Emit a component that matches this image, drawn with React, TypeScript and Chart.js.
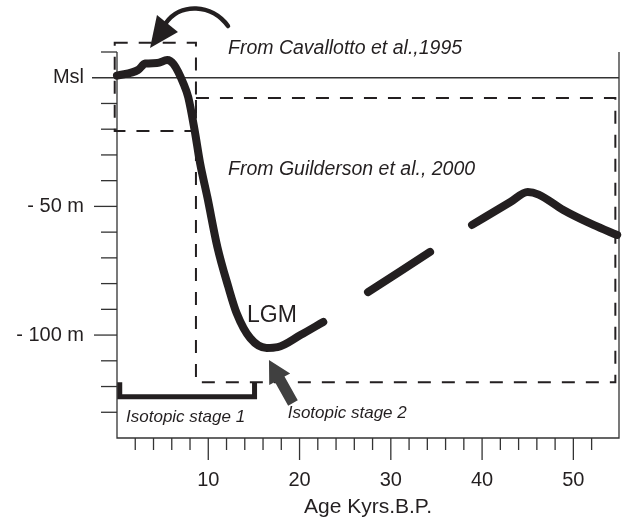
import React, { useEffect, useRef } from 'react';
import { Chart, registerables } from 'chart.js';
Chart.register(...registerables);

// ---- data ----
const ages = [0, 2.3, 3.1, 4.4, 5.5, 6.2, 7.3, 7.8, 8.5, 9.1, 9.9, 11.0, 12.2, 13.1, 14.6, 16.4, 17.6, 20.1, 22.6, 25.0, 27.5, 34.3, 36.5, 38.9, 43.1, 45.0, 46.2, 48.9, 52.2, 54.8];
const levels = [0.8, 3.0, 5.5, 5.7, 6.9, 5.3, -2.4, -7.5, -20.3, -33.1, -46.4, -65.8, -81.3, -91.4, -101.2, -105.0, -104.7, -100.0, -94.9, null, -83.3, -67.7, null, -57.2, -48.3, -44.4, -45.4, -51.4, -57.2, -61.1];

const xMajorTicks = [10, 20, 30, 40, 50];
const yTickValues = [0, -50, -100];
const yTickLabels = ['Msl', '- 50 m', '- 100 m'];
const xTitle = 'Age Kyrs.B.P.';

// annotation boxes in data units [xLeft, xRight, yTop, yBottom]
const boxCavallotto = [-0.25, 8.65, 13.6, -20.7];
const boxGuilderson = [8.65, 54.6, -7.9, -118.3];
// isotopic stage 1 bracket [xLeft, xRight, yTop, yBottom]
const stage1Bracket = [0.3, 15.07, -118.3, -124.0];

const FONT = '"Liberation Sans", Arial, Helvetica, sans-serif';
const INK = '#231f20';

const annotPlugin = {
  id: 'annot',
  beforeDatasetsDraw(chart: any) {
    const ctx = chart.ctx;
    const xs = chart.scales.x, ys = chart.scales.y;
    const X = (v: number) => xs.getPixelForValue(v);
    const Y = (v: number) => ys.getPixelForValue(v);
    const { left: L, right: R, top: T, bottom: B } = chart.chartArea;
    ctx.save();
    // axes
    ctx.strokeStyle = '#333';
    ctx.lineWidth = 1.3;
    ctx.beginPath();
    ctx.moveTo(L, T); ctx.lineTo(L, B); ctx.lineTo(R, B); ctx.lineTo(R, T);
    ctx.stroke();
    // y ticks
    for (const t of ys.ticks) {
      const v = Math.round(t.value);
      if (v <= ys.min) continue;
      const yy = Y(v);
      if (v === 0) {
        ctx.beginPath(); ctx.moveTo(L - 25, yy); ctx.lineTo(R, yy); ctx.stroke();
        continue;
      }
      const len = yTickValues.includes(v) ? 23 : 16;
      ctx.beginPath(); ctx.moveTo(L - len, yy); ctx.lineTo(L, yy); ctx.stroke();
    }
    // x ticks
    for (const t of xs.ticks) {
      const v = Math.round(t.value);
      if (v <= xs.min || v >= xs.max) continue;
      const xx = X(v);
      const len = xMajorTicks.includes(v) ? 22 : 12;
      ctx.beginPath(); ctx.moveTo(xx, B); ctx.lineTo(xx, B + len); ctx.stroke();
    }
    // dashed boxes
    ctx.strokeStyle = INK;
    ctx.lineWidth = 2;
    ctx.setLineDash([13, 11]);
    for (const b of [boxCavallotto, boxGuilderson]) {
      const x1 = X(b[0]), x2 = X(b[1]), y1 = Y(b[2]), y2 = Y(b[3]);
      ctx.beginPath();
      ctx.rect(x1, y1, x2 - x1, y2 - y1);
      ctx.stroke();
    }
    ctx.setLineDash([]);
    // bracket
    ctx.lineWidth = 5;
    ctx.lineJoin = 'miter';
    ctx.beginPath();
    ctx.moveTo(X(stage1Bracket[0]), Y(stage1Bracket[2]));
    ctx.lineTo(X(stage1Bracket[0]), Y(stage1Bracket[3]));
    ctx.lineTo(X(stage1Bracket[1]), Y(stage1Bracket[3]));
    ctx.lineTo(X(stage1Bracket[1]), Y(stage1Bracket[2]));
    ctx.stroke();
    ctx.restore();
  },
  afterDatasetsDraw(chart: any) {
    const ctx = chart.ctx;
    const xs = chart.scales.x, ys = chart.scales.y;
    const X = (v: number) => xs.getPixelForValue(v);
    const Y = (v: number) => ys.getPixelForValue(v);
    ctx.save();
    // curved black arrow (data units)
    ctx.strokeStyle = INK;
    ctx.fillStyle = INK;
    ctx.lineWidth = 4.5;
    ctx.lineCap = 'round';
    ctx.beginPath();
    ctx.moveTo(X(12.16), Y(20.1));
    ctx.bezierCurveTo(X(10.41), Y(28.65), X(6.9), Y(29.43), X(5.3), Y(21.0));
    ctx.stroke();
    ctx.beginPath();
    ctx.moveTo(X(3.62), Y(11.55));
    ctx.lineTo(X(4.38), Y(24.38));
    ctx.lineTo(X(6.68), Y(17.77));
    ctx.closePath();
    ctx.fill();
    // gray arrow pointing to LGM minimum
    {
      const tx = X(16.65), ty = Y(-109.7), bx = X(19.28), by = Y(-126.4);
      const dx = bx - tx, dy = by - ty; const d = Math.hypot(dx, dy);
      const ux = dx / d, uy = dy / d; const nx = -uy, ny = ux;
      const hl = 22, hw = 12, sw = 5.5;
      ctx.fillStyle = '#404040';
      ctx.beginPath();
      ctx.moveTo(tx, ty);
      ctx.lineTo(tx + ux * hl + nx * hw, ty + uy * hl + ny * hw);
      ctx.lineTo(tx + ux * hl + nx * sw, ty + uy * hl + ny * sw);
      ctx.lineTo(bx + nx * sw, by + ny * sw);
      ctx.lineTo(bx - nx * sw, by - ny * sw);
      ctx.lineTo(tx + ux * hl - nx * sw, ty + uy * hl - ny * sw);
      ctx.lineTo(tx + ux * hl - nx * hw, ty + uy * hl - ny * hw);
      ctx.closePath();
      ctx.fill();
    }
    // texts
    ctx.fillStyle = INK;
    ctx.textBaseline = 'alphabetic';
    ctx.textAlign = 'left';
    ctx.font = `italic 19.5px ${FONT}`;
    ctx.fillText('From Cavallotto et al.,1995', X(12.16), Y(9.2));
    ctx.fillText('From Guilderson et al., 2000', X(12.16), Y(-37.8));
    ctx.font = `23px ${FONT}`;
    ctx.fillText('LGM', X(14.24), Y(-94.9));
    ctx.font = `italic 17px ${FONT}`;
    ctx.fillText('Isotopic stage 1', X(0.99), Y(-133.8));
    ctx.fillText('Isotopic stage 2', X(18.7), Y(-132.2));
    ctx.restore();
  },
};

export default function App() {
  const ref = useRef<HTMLCanvasElement>(null);
  useEffect(() => {
    const canvas = ref.current!;
    const chart = new Chart(canvas, {
      type: 'line',
      data: {
        datasets: [
          {
            data: ages.map((a, i) => ({ x: a, y: levels[i] })) as any,
            borderColor: INK,
            borderWidth: 8,
            borderCapStyle: 'round',
            borderJoinStyle: 'round',
            pointRadius: 0,
            cubicInterpolationMode: 'monotone',
            spanGaps: false,
            fill: false,
            clip: false as any,
          },
        ],
      },
      options: {
        responsive: false,
        animation: false,
        devicePixelRatio: 1,
        layout: { padding: { top: 52, right: 3, left: 0, bottom: 0 } },
        plugins: { legend: { display: false }, tooltip: { enabled: false } },
        scales: {
          x: {
            type: 'linear',
            min: 0,
            max: 55,
            afterFit: (s: any) => { s.height = 82; s.paddingLeft = 0; s.paddingRight = 0; },
            grid: { display: false, drawTicks: false },
            border: { display: false },
            ticks: {
              stepSize: 2,
              autoSkip: false,
              maxRotation: 0,
              padding: 30,
              color: INK,
              font: { family: FONT, size: 20 },
              callback: (v: any) => (xMajorTicks.includes(Math.round(v)) ? String(Math.round(v)) : ''),
            },
            title: {
              display: true,
              text: xTitle,
              color: INK,
              font: { family: FONT, size: 21 },
              padding: { top: 0, bottom: 0 },
            },
          },
          y: {
            type: 'linear',
            min: -140,
            max: 10,
            afterFit: (s: any) => { s.width = 117; s.paddingTop = 0; s.paddingBottom = 0; },
            grid: { display: false, drawTicks: false },
            border: { display: false },
            ticks: {
              stepSize: 10,
              autoSkip: false,
              padding: 33,
              color: INK,
              font: { family: FONT, size: 20 },
              callback: (v: any) => {
                const i = yTickValues.indexOf(Math.round(v));
                return i >= 0 ? yTickLabels[i] : '';
              },
            },
          },
        },
      },
      plugins: [annotPlugin],
    });
    return () => chart.destroy();
  }, []);
  return (
    <div style={{ position: 'absolute', left: 0, top: 0, width: 622, height: 520, background: '#fff' }}>
      <canvas ref={ref} width={622} height={520} style={{ width: 622, height: 520, display: 'block' }} />
    </div>
  );
}
